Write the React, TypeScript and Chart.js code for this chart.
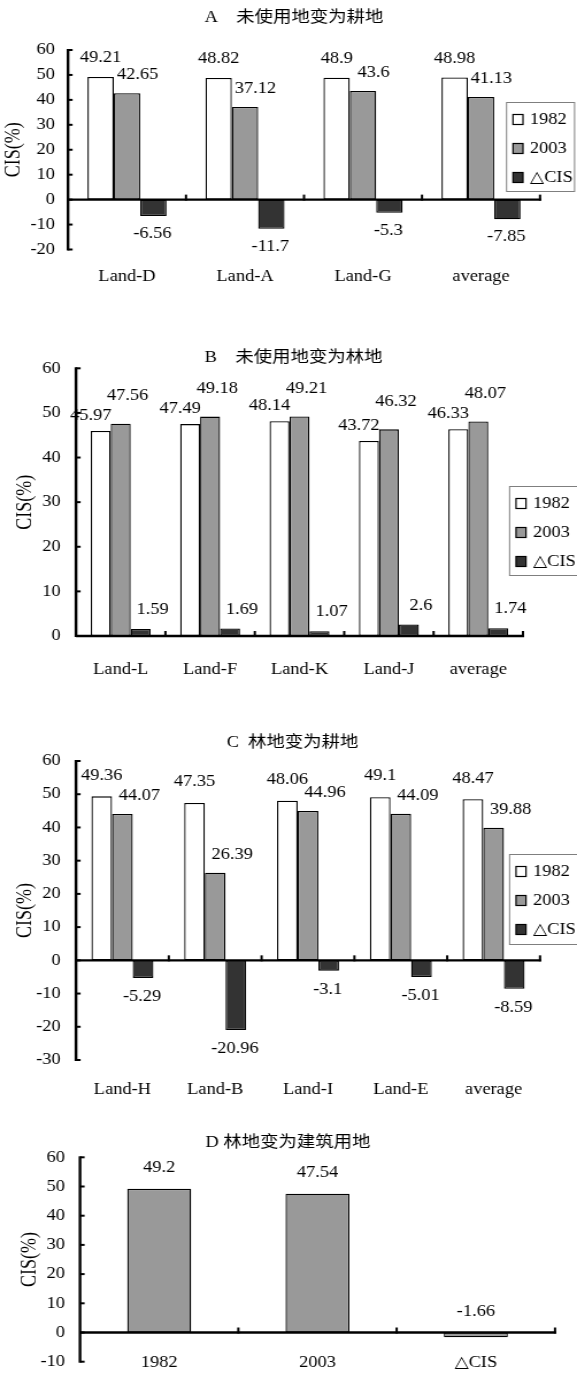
import React, { useEffect, useRef } from 'react';
import { Chart, registerables } from 'chart.js';

Chart.register(...registerables);

// ---------- data ----------
const seriesNames = ['1982', '2003', '△CIS'];

const catsA = ['Land-D', 'Land-A', 'Land-G', 'average'];
const a1982 = [49.21, 48.82, 48.9, 48.98];
const a2003 = [42.65, 37.12, 43.6, 41.13];
const aDelta = [-6.56, -11.7, -5.3, -7.85];

const catsB = ['Land-L', 'Land-F', 'Land-K', 'Land-J', 'average'];
const b1982 = [45.97, 47.49, 48.14, 43.72, 46.33];
const b2003 = [47.56, 49.18, 49.21, 46.32, 48.07];
const bDelta = [1.59, 1.69, 1.07, 2.6, 1.74];

const catsC = ['Land-H', 'Land-B', 'Land-I', 'Land-E', 'average'];
const c1982 = [49.36, 47.35, 48.06, 49.1, 48.47];
const c2003 = [44.07, 26.39, 44.96, 44.09, 39.88];
const cDelta = [-5.29, -20.96, -3.1, -5.01, -8.59];

const catsD = ['1982', '2003', '△CIS'];
const dValues = [49.2, 47.54, -1.66];

const titleA = 'A\u3000未使用地变为耕地';
const titleB = 'B\u3000未使用地变为林地';
const titleC = 'C  林地变为耕地';
const titleD = 'D 林地变为建筑用地';
const yTitle = 'CIS(%)';

// ---------- styling ----------
const CW = 502; // canvas drawing width; displayed stretched to 577px
const S = 577 / CW;
const FONT = "'Liberation Serif', 'DejaVu Serif', 'Noto Sans CJK SC', serif";
const seriesColors = ['#ffffff', '#999999', '#333333'];

type Offset = { dx: number; gap: number };
type PanelCfg = {
  top: number;
  h: number;
  title: string;
  titleX: number;
  titleY: number;
  cats: string[];
  series: number[][];
  names: string[];
  colors: string[];
  yMin: number;
  yMax: number;
  area: { left: number; right: number; top: number; bottom: number };
  yTitleX: number;
  tickRight: number;
  xLabelY: number;
  manualXLabels?: boolean;
  catPct: number;
  barPct: number;
  offsets: Offset[];
  negAbove?: boolean;
  legend: { x: number; y: number; w: number; h: number } | null;
};

const panels: PanelCfg[] = [
  {
    top: 0, h: 300, title: titleA, titleX: 294, titleY: 18,
    cats: catsA, series: [a1982, a2003, aDelta], names: seriesNames, colors: seriesColors,
    yMin: -20, yMax: 60,
    area: { left: 68, right: 540, top: 50, bottom: 249.5 },
    yTitleX: 14, tickRight: 55, xLabelY: 277, catPct: 0.67, barPct: 1,
    offsets: [{ dx: 0, gap: 19 }, { dx: 10.5, gap: 18 }, { dx: -1, gap: 18 }],
    legend: { x: 506, y: 102, w: 68, h: 89 },
  },
  {
    top: 340, h: 350, title: titleB, titleX: 293.5, titleY: 18,
    cats: catsB, series: [b1982, b2003, bDelta], names: seriesNames, colors: seriesColors,
    yMin: 0, yMax: 60,
    area: { left: 76, right: 523, top: 28.3, bottom: 296 },
    yTitleX: 25.8, tickRight: 60.7, xLabelY: 330, catPct: 0.67, barPct: 1,
    offsets: [{ dx: -10, gap: 15 }, { dx: 7, gap: 28 }, { dx: 12, gap: 19 }],
    legend: { x: 509, y: 146, w: 70, h: 89 },
  },
  {
    top: 725, h: 375, title: titleC, titleX: 292.5, titleY: 18,
    cats: catsC, series: [c1982, c2003, cDelta], names: seriesNames, colors: seriesColors,
    yMin: -30, yMax: 60,
    area: { left: 76, right: 540, top: 36, bottom: 335 },
    yTitleX: 25.8, tickRight: 60.7, xLabelY: 365, catPct: 0.668, barPct: 1,
    offsets: [{ dx: 0, gap: 21 }, { dx: 17, gap: 18 }, { dx: -1, gap: 19 }],
    legend: { x: 509, y: 129, w: 70, h: 90 },
  },
  {
    top: 1120, h: 283, title: titleD, titleX: 288, titleY: 23,
    cats: catsD, series: [dValues], names: [''], colors: ['#999999'],
    yMin: -10, yMax: 60,
    area: { left: 80, right: 555, top: 37.3, bottom: 241.7 },
    yTitleX: 30.4, tickRight: 65, xLabelY: 243, manualXLabels: true, catPct: 1, barPct: 0.404,
    offsets: [{ dx: 0, gap: 21 }], negAbove: true,
    legend: null,
  },
];

function makeDeco(cfg: PanelCfg) {
  return {
    id: 'deco',
    afterDatasetsDraw(chart: any) {
      const ctx: CanvasRenderingContext2D = chart.ctx;
      const { left, right, top, bottom } = chart.chartArea;
      const ys = chart.scales.y;
      const xs = chart.scales.x;
      ctx.save();
      ctx.strokeStyle = '#000';
      ctx.fillStyle = '#000';

      // zero line
      const y0 = ys.getPixelForValue(0);
      ctx.lineWidth = 2.4;
      ctx.beginPath();
      ctx.moveTo(left, y0);
      ctx.lineTo(right + 1, y0);
      ctx.stroke();

      // category separator ticks on zero line
      ctx.lineWidth = 2;
      const n = xs.ticks.length;
      for (let i = 1; i <= n; i++) {
        const bx = i < n ? (xs.getPixelForTick(i - 1) + xs.getPixelForTick(i)) / 2 : right;
        ctx.beginPath();
        ctx.moveTo(bx, y0 + 1);
        ctx.lineTo(bx, y0 - 5);
        ctx.stroke();
      }

      // y axis line + inside ticks
      ctx.lineWidth = 2.4;
      ctx.beginPath();
      ctx.moveTo(left, top - 1);
      ctx.lineTo(left, bottom + 1);
      ctx.stroke();
      ctx.lineWidth = 2;
      ys.ticks.forEach((t: any) => {
        const py = ys.getPixelForValue(t.value);
        ctx.beginPath();
        ctx.moveTo(left, py);
        ctx.lineTo(left + 4, py);
        ctx.stroke();
      });

      // title
      ctx.font = `16px ${FONT}`;
      ctx.textAlign = 'center';
      ctx.textBaseline = 'middle';
      ctx.fillText(cfg.title, cfg.titleX / S, cfg.titleY);

      // category labels drawn over the plot bottom (panel D)
      if (cfg.manualXLabels) {
        chart.data.labels.forEach((lab: string, i: number) => {
          ctx.fillText(lab, xs.getPixelForTick(i), cfg.xLabelY);
        });
      }

      // data labels
      chart.data.datasets.forEach((ds: any, i: number) => {
        const meta = chart.getDatasetMeta(i);
        const off = cfg.offsets[i];
        meta.data.forEach((bar: any, j: number) => {
          const v = ds.data[j];
          const p = bar.getProps(['x', 'y', 'base'], true);
          const tY = Math.min(p.y, p.base);
          const bY = Math.max(p.y, p.base);
          const ly = v >= 0 || cfg.negAbove ? tY - off.gap : bY + off.gap;
          ctx.fillText(String(v), p.x + off.dx / S, ly);
        });
      });

      // legend
      if (cfg.legend) {
        const L = cfg.legend.x / S;
        const T = cfg.legend.y;
        const W = cfg.legend.w / S;
        const H = cfg.legend.h;
        ctx.fillStyle = '#fff';
        ctx.fillRect(L, T, W, H);
        ctx.strokeStyle = '#7f7f7f';
        ctx.lineWidth = 1;
        ctx.strokeRect(L + 0.5, T + 0.5, W, H);
        ctx.textAlign = 'left';
        chart.data.datasets.forEach((ds: any, i: number) => {
          const ry = T + 17.5 + i * 29;
          ctx.fillStyle = ds.backgroundColor;
          ctx.fillRect(L + 7 / S, ry - 5, 10 / S, 10);
          ctx.strokeStyle = '#000';
          ctx.lineWidth = 1.2;
          ctx.strokeRect(L + 7 / S, ry - 5, 10 / S, 10);
          ctx.fillStyle = '#000';
          ctx.fillText(ds.label, L + 24 / S, ry);
        });
      }
      ctx.restore();
    },
  };
}

function Panel({ cfg }: { cfg: PanelCfg }) {
  const ref = useRef<HTMLCanvasElement>(null);
  useEffect(() => {
    if (!ref.current) return;
    const a = cfg.area;
    const chart = new Chart(ref.current, {
      type: 'bar',
      data: {
        labels: cfg.cats,
        datasets: cfg.series.map((d, i) => ({
          label: cfg.names[i],
          data: d,
          backgroundColor: cfg.colors[i],
          borderColor: '#000',
          borderWidth: 1.3,
          borderSkipped: false,
          categoryPercentage: cfg.catPct,
          barPercentage: cfg.barPct,
        })),
      },
      options: {
        responsive: false,
        animation: false,
        devicePixelRatio: window.devicePixelRatio || 1,
        layout: {
          padding: { top: a.top, right: CW - a.right / S, bottom: 0, left: 0 },
        },
        plugins: {
          legend: { display: false },
          title: { display: false },
          tooltip: { enabled: false },
        },
        scales: {
          x: {
            type: 'category',
            offset: true,
            grid: { display: false, drawTicks: false },
            border: { display: false },
            ticks: {
              display: !cfg.manualXLabels,
              color: '#000',
              font: { family: FONT, size: 16 },
              padding: cfg.xLabelY - a.bottom - 9.6,
              maxRotation: 0,
              autoSkip: false,
            },
            afterFit: (scale: any) => {
              scale.height = cfg.h - a.bottom;
            },
          },
          y: {
            min: cfg.yMin,
            max: cfg.yMax,
            grid: { display: false, drawTicks: false },
            border: { display: false },
            ticks: {
              stepSize: 10,
              color: '#000',
              font: { family: FONT, size: 16 },
              padding: (a.left - cfg.tickRight) / S,
            },
            title: {
              display: true,
              text: yTitle,
              color: '#000',
              font: { family: FONT, size: 18 },
              padding: { top: cfg.yTitleX / S - 10.8, bottom: 0 },
            },
            afterFit: (scale: any) => {
              scale.width = a.left / S;
            },
          },
        },
      } as any,
      plugins: [makeDeco(cfg)],
    });
    return () => chart.destroy();
  }, [cfg]);
  return (
    <canvas
      ref={ref}
      width={CW}
      height={cfg.h}
      style={{ position: 'absolute', left: 0, top: cfg.top, width: '577px', height: `${cfg.h}px` }}
    />
  );
}

export default function App() {
  return (
    <div style={{ position: 'absolute', left: 0, top: 0, width: 577, height: 1373, background: '#fff', overflow: 'hidden' }}>
      {panels.map((p, i) => (
        <Panel key={i} cfg={p} />
      ))}
    </div>
  );
}
